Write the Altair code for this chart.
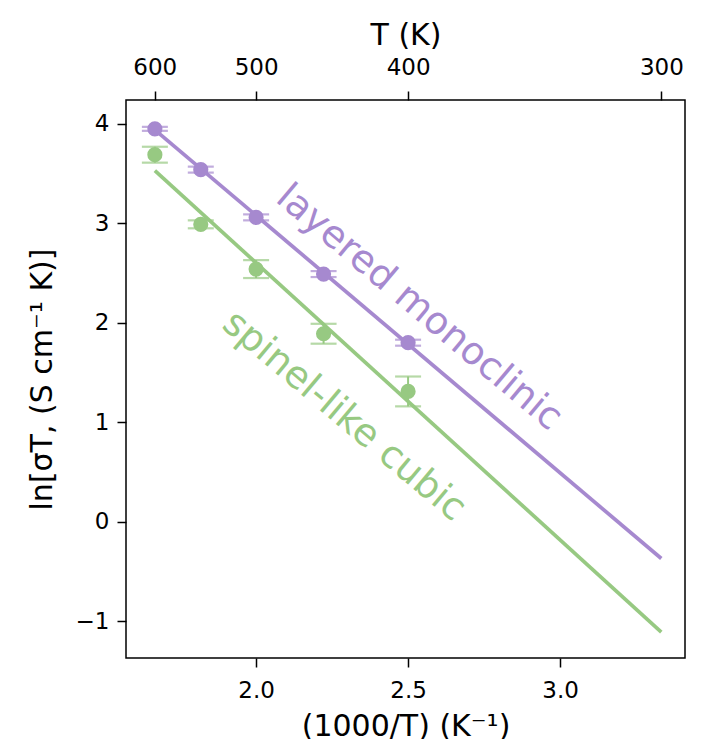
import altair as alt
import pandas as pd

# data
inv_T = [1.667, 1.818, 2.000, 2.222, 2.500]
mono_y = [3.95, 3.54, 3.06, 2.49, 1.80]
mono_err = [0.02, 0.03, 0.03, 0.03, 0.03]
cubic_y = [3.69, 2.99, 2.54, 1.89, 1.31]
cubic_err = [0.08, 0.04, 0.09, 0.10, 0.15]

fit_x = [1.667, 3.333]
mono_fit = [3.94, -0.37]
cubic_fit = [3.53, -1.11]

top_T = [600, 500, 400, 300]
bottom_ticks = [2.0, 2.5, 3.0]
y_ticks = [-1, 0, 1, 2, 3, 4]

labels = ["layered monoclinic", "spinel-like cubic"]
label_x = [2.536, 2.289]
label_y = [2.15, 1.06]

PURPLE = "#a689cf"
GREEN = "#97c982"
series = ["mono", "cubic"]
colors = [PURPLE, GREEN]

pts = pd.DataFrame({
    "x": inv_T * 2,
    "y": mono_y + cubic_y,
    "lo": [v - e for v, e in zip(mono_y, mono_err)] + [v - e for v, e in zip(cubic_y, cubic_err)],
    "hi": [v + e for v, e in zip(mono_y, mono_err)] + [v + e for v, e in zip(cubic_y, cubic_err)],
    "s": ["mono"] * 5 + ["cubic"] * 5,
})
fits = pd.DataFrame({
    "x": fit_x * 2,
    "y": mono_fit + cubic_fit,
    "s": ["mono"] * 2 + ["cubic"] * 2,
})
ann = pd.DataFrame({"x": label_x, "y": label_y, "t": labels, "s": series})
top_df = pd.DataFrame({"x": [1000.0 / t for t in top_T]})

XDOM = [1.572, 3.411]
YDOM = [-1.37, 4.24]
FONT = "DejaVu Sans"

xscale = alt.Scale(domain=XDOM, nice=False, zero=False)
yscale = alt.Scale(domain=YDOM, nice=False, zero=False)
color = alt.Color("s:N", scale=alt.Scale(domain=series, range=colors), legend=None)

y_axis = alt.Axis(
    values=y_ticks,
    labelExpr="datum.value < 0 ? '\u2212' + abs(datum.value) : '' + datum.value",
    title="ln[\u03c3T, (S cm\u207b\u00b9 K)]",
    titlePadding=18,
    labelPadding=8,
)


def Yf(field):
    return alt.Y(field, scale=yscale, axis=y_axis)


bottom_axis = alt.Axis(values=bottom_ticks, format=".1f", title="(1000/T) (K\u207b\u00b9)",
                       orient="bottom", labelPadding=12, titlePadding=9)
top_axis = alt.Axis(
    values=[1000.0 / t for t in top_T],
    labelExpr="format(1000/datum.value, '.0f')",
    title="T (K)",
    orient="top",
    labelPadding=12,
    titlePadding=6,
)

lines = alt.Chart(fits).mark_line(strokeWidth=3.7).encode(
    x=alt.X("x:Q", scale=xscale, axis=bottom_axis), y=Yf("y:Q"), color=color, detail="s:N"
)
top = alt.Chart(top_df).mark_point(opacity=0).encode(
    x=alt.X("x:Q", scale=xscale, axis=top_axis), y=alt.value(0)
)
bars = alt.Chart(pts).mark_rule(strokeWidth=2).encode(
    x=alt.X("x:Q", scale=xscale, axis=None), y=Yf("lo:Q"), y2="hi:Q", color=color
)
caps_lo = alt.Chart(pts).mark_tick(orient="horizontal", size=26, thickness=2.2).encode(
    x=alt.X("x:Q", scale=xscale, axis=None), y=Yf("lo:Q"), color=color
)
caps_hi = alt.Chart(pts).mark_tick(orient="horizontal", size=26, thickness=2.2).encode(
    x=alt.X("x:Q", scale=xscale, axis=None), y=Yf("hi:Q"), color=color
)
dots = alt.Chart(pts).mark_circle(size=230, opacity=1).encode(
    x=alt.X("x:Q", scale=xscale, axis=None), y=Yf("y:Q"), color=color
)
text = alt.Chart(ann).mark_text(angle=40, fontSize=38, font=FONT, align="center", baseline="middle").encode(
    x=alt.X("x:Q", scale=xscale, axis=None), y=Yf("y:Q"), text="t:N", color=color
)

chart = alt.layer(lines, top, bars, caps_lo, caps_hi, dots, text).resolve_axis(x="independent").properties(
    width=559, height=558,
    padding={"left": 19, "top": 12, "right": 5, "bottom": 5},
).configure_view(stroke="black", strokeWidth=1.5).configure_axis(
    grid=False, domain=False, ticks=True, tickColor="black", tickSize=9, tickWidth=1.5,
    labelColor="black", labelFont=FONT, labelFontSize=23, labelPadding=7,
    titleColor="black", titleFont=FONT, titleFontSize=30, titleFontWeight="normal",
)

chart.save("out.html", embed_options={"renderer": "svg", "actions": False})
